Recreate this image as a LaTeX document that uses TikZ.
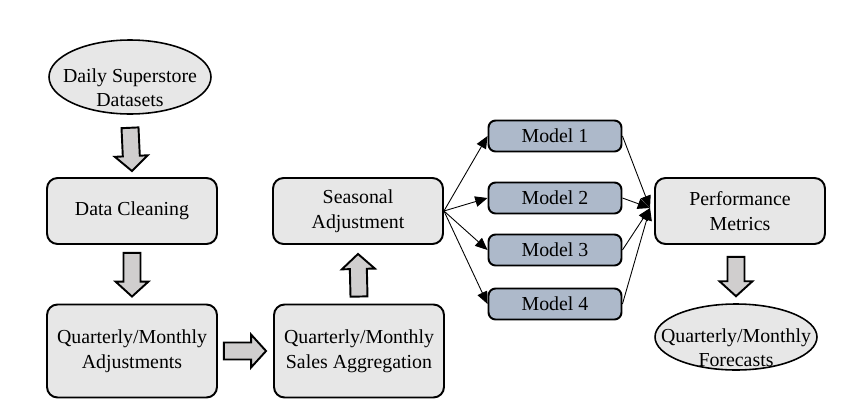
\documentclass[tikz,border=0pt]{standalone}
\usepackage{fontspec}
\setmainfont{Liberation Serif}
\usetikzlibrary{calc}
\usetikzlibrary{arrows.meta}
\usetikzlibrary{shapes.geometric}
\definecolor{boxgray}{RGB}{231,231,231}
\definecolor{arrgray}{RGB}{208,206,206}
\definecolor{modelblue}{RGB}{173,185,202}
\tikzset{
 stagebox/.style={draw=black, line width=1.1pt, rounded corners=6pt, fill=boxgray,
   minimum width=3.4cm, minimum height=1.32cm, align=center, inner sep=2pt},
 bigbox/.style={stagebox, minimum height=1.86cm},
 modelbox/.style={draw=black, line width=1.1pt, rounded corners=4pt, fill=modelblue,
   minimum width=2.66cm, minimum height=0.62cm, inner sep=1pt},
 datablob/.style={ellipse, draw=black, line width=0.9pt, fill=boxgray,
   minimum width=3.24cm, minimum height=1.48cm, inner sep=0pt},
 blobtext/.style={align=center, yshift=-6pt},
 thinarr/.style={-{Triangle[length=7pt,width=6pt]}, line width=0.5pt},
 blockarr/.style={draw=black, line width=1.1pt, fill=arrgray, line join=miter}
}
% block arrow from #1 to #2
\newcommand{\blockarrow}[2]{%
 \coordinate (ba-a) at (#1);
 \coordinate (ba-b) at (#2);
 \coordinate (ba-h) at ($(ba-b)!3mm!(ba-a)$);
 \draw[blockarr] ($(ba-a)!1.7mm!90:(ba-b)$) -- ($(ba-h)!1.7mm!90:(ba-b)$)
   -- ($(ba-h)!3.3mm!90:(ba-b)$) -- (ba-b) -- ($(ba-h)!3.3mm!-90:(ba-b)$)
   -- ($(ba-h)!1.7mm!-90:(ba-b)$) -- ($(ba-a)!1.7mm!-90:(ba-b)$) -- cycle;
}
\begin{document}
\begin{tikzpicture}[x=0.02cm, y=-0.02cm, font=\fontsize{11.3}{14}\selectfont]
\useasboundingbox (0,0) rectangle (850,413);
% left column
\node[datablob, label={[blobtext]center:Daily Superstore\\Datasets}] (data) at (130,77) {};
\node[stagebox] (clean) at (132,211) {Data Cleaning};
\node[bigbox] (adjust) at (132,351) {Quarterly/Monthly\\Adjustments};
% middle column
\node[bigbox] (aggr) at (359,351) {Quarterly/Monthly\\Sales Aggregation};
\node[stagebox] (season) at (358,211) {Seasonal\\Adjustment};
% models
\foreach \m/\y in {1/136,2/198,3/250,4/304} {
 \node[modelbox] (model\m) at (555,\y) {Model \m};
}
% right column
\node[stagebox] (perf) at (740,211) {Performance\\Metrics};
\node[datablob, minimum height=1.32cm,
  label={[blobtext]center:Quarterly/Monthly\\Forecasts}] (fcast) at (736,337) {};
% block arrows
\blockarrow{$(data.south)+(0,13)$}{$(clean.north)+(0,-6)$}
\blockarrow{$(clean.south)+(0,8)$}{$(adjust.north)+(0,-7)$}
\blockarrow{$(adjust.east)+(6,0)$}{$(aggr.west)+(-7,0)$}
\blockarrow{$(aggr.north)+(0,-7)$}{$(season.south)+(0,9)$}
\blockarrow{$(perf.south -| fcast.north)+(0,12)$}{$(fcast.north)+(0,-7)$}
% thin arrows
\coordinate (meet) at ($(perf.west)+(-4,-3)$);
\foreach \m in {1,...,4} {
 \draw[thinarr] (season.east) -- (model\m.west);
 \draw[thinarr] (model\m.east) -- (meet);
}
\end{tikzpicture}
\end{document}
